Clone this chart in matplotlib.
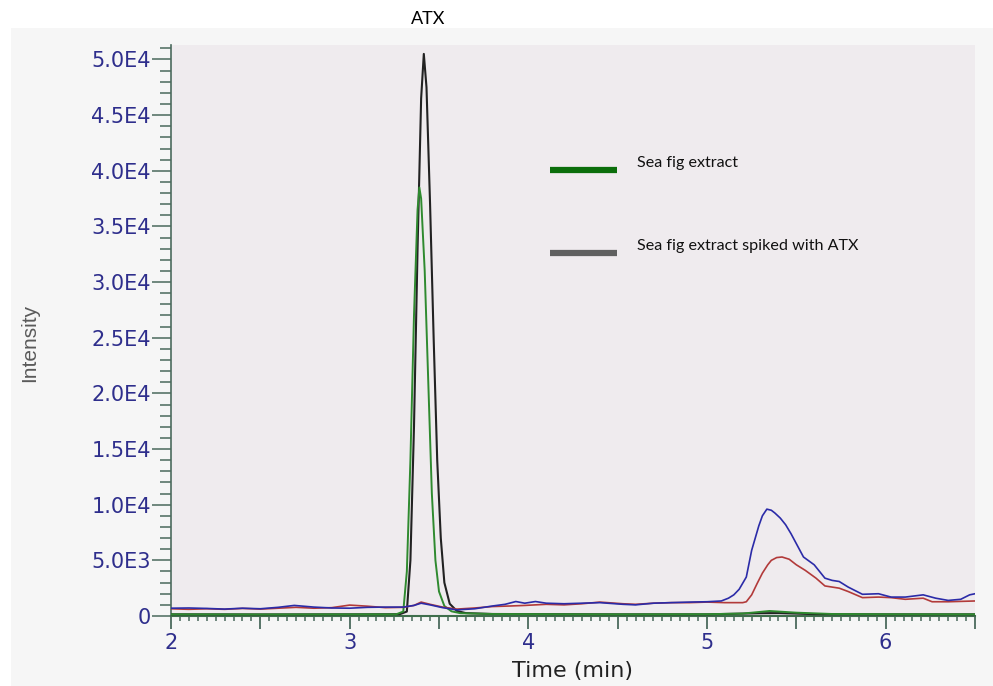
import matplotlib.pyplot as plt
from matplotlib.lines import Line2D
from matplotlib.patches import Rectangle
from matplotlib.ticker import MultipleLocator

# retention time (min) and intensity for each trace
spiked_time = [2.00, 2.50, 3.00, 3.28, 3.32, 3.34, 3.36, 3.38, 3.40, 3.415, 3.43, 3.45,
               3.47, 3.49, 3.51, 3.53, 3.56, 3.60, 3.65, 3.80, 4.50, 5.00, 5.30, 5.40,
               5.60, 6.00, 6.50]
spiked_int = [150, 140, 150, 160, 400, 5000, 17000, 33000, 46500, 50500, 47500, 37000,
              25000, 14000, 7000, 3000, 1100, 450, 260, 180, 150, 150, 250, 260,
              170, 150, 150]

extract_time = [2.00, 2.50, 3.00, 3.26, 3.30, 3.32, 3.34, 3.36, 3.38, 3.39, 3.40, 3.42,
                3.44, 3.46, 3.48, 3.50, 3.53, 3.57, 3.62, 3.80, 4.50, 5.00, 5.20, 5.35,
                5.50, 5.70, 6.00, 6.50]
extract_int = [150, 140, 150, 150, 400, 4000, 14000, 27000, 36500, 38500, 37500, 31000,
               21000, 11000, 5000, 2200, 900, 420, 250, 180, 150, 160, 220, 450,
               300, 180, 160, 150]

blue_time = [2.00, 2.10, 2.20, 2.30, 2.40, 2.50, 2.60, 2.69, 2.80, 2.90, 3.00, 3.10,
             3.20, 3.30, 3.36, 3.40, 3.45, 3.52, 3.60, 3.70, 3.80, 3.87, 3.93, 3.98,
             4.04, 4.10, 4.20, 4.30, 4.40, 4.53, 4.60, 4.70, 4.80, 4.90, 5.00, 5.08,
             5.12, 5.15, 5.18, 5.22, 5.25, 5.29, 5.31, 5.335, 5.36, 5.38, 5.41, 5.44,
             5.47, 5.50, 5.54, 5.60, 5.66, 5.70, 5.74, 5.79, 5.87, 5.96, 6.03, 6.11,
             6.21, 6.28, 6.35, 6.42, 6.47, 6.50]
blue_int = [700, 720, 680, 620, 700, 650, 780, 950, 800, 720, 700, 780,
            800, 800, 950, 1150, 1000, 750, 550, 650, 900, 1050, 1300, 1150,
            1300, 1150, 1100, 1150, 1200, 1050, 1000, 1150, 1200, 1250, 1280, 1350,
            1600, 1900, 2400, 3500, 5900, 8100, 9000, 9600, 9500, 9250, 8800, 8200,
            7400, 6500, 5300, 4600, 3400, 3200, 3100, 2600, 1950, 2000, 1700, 1700,
            1900, 1600, 1400, 1500, 1900, 2000]

red_time = [2.00, 2.10, 2.20, 2.30, 2.40, 2.50, 2.60, 2.70, 2.80, 2.90, 3.00, 3.10,
            3.20, 3.30, 3.36, 3.40, 3.45, 3.52, 3.60, 3.70, 3.80, 3.90, 3.98, 4.10,
            4.20, 4.30, 4.40, 4.53, 4.60, 4.70, 4.80, 4.90, 5.00, 5.10, 5.20, 5.22,
            5.25, 5.28, 5.31, 5.34, 5.36, 5.39, 5.42, 5.46, 5.50, 5.55, 5.61, 5.66,
            5.74, 5.79, 5.87, 5.96, 6.03, 6.11, 6.21, 6.26, 6.35, 6.50]
red_int = [650, 600, 650, 600, 680, 620, 700, 780, 700, 750, 980, 880,
           750, 780, 950, 1250, 1050, 800, 620, 720, 850, 900, 950, 1050,
           1000, 1100, 1250, 1100, 1050, 1150, 1200, 1200, 1250, 1200, 1200, 1280,
           1900, 2900, 3850, 4600, 5000, 5250, 5300, 5100, 4600, 4100, 3400, 2700,
           2500, 2200, 1650, 1700, 1650, 1500, 1600, 1280, 1280, 1350]

y_ticks = [0, 5000, 10000, 15000, 20000, 25000, 30000, 35000, 40000, 45000, 50000]
y_tick_labels = ["0", "5.0E3", "1.0E4", "1.5E4", "2.0E4", "2.5E4",
                 "3.0E4", "3.5E4", "4.0E4", "4.5E4", "5.0E4"]
x_ticks = [2, 2.5, 3, 3.5, 4, 4.5, 5, 5.5, 6, 6.5]
x_tick_labels = ["2", "", "3", "", "4", "", "5", "", "6", ""]

legend_labels = ["Sea fig extract", "Sea fig extract spiked with ATX"]
legend_colors = ["#0b6e0b", "#606060"]

fig = plt.figure(figsize=(9.93, 6.86), dpi=100)
fig.patch.set_facecolor("white")
fig.add_artist(Rectangle((11 / 993, 0), 1, 1 - 28 / 686, transform=fig.transFigure,
                         facecolor="#f6f6f6", edgecolor="none", zorder=-5))

ax = fig.add_axes([171 / 993, 1 - 616 / 686, 804 / 993, 571 / 686])
ax.set_facecolor("#efebee")

ax.plot(spiked_time, spiked_int, color="#222222", lw=1.5, zorder=3)
ax.plot(extract_time, extract_int, color="#2f8a2f", lw=1.4, zorder=4)
ax.plot(red_time, red_int, color="#b23a3a", lw=1.2, zorder=5)
ax.plot(blue_time, blue_int, color="#2b2ba8", lw=1.2, zorder=6)

ax.set_xlim(2, 6.5)
ax.set_ylim(0, 51300)

axis_col = "#4b6a5d"
for side in ["top", "right"]:
    ax.spines[side].set_visible(False)
ax.spines["left"].set_color(axis_col)
ax.spines["left"].set_linewidth(1.2)
ax.spines["bottom"].set_color("#3f6e4c")
ax.spines["bottom"].set_linewidth(1.5)

ax.set_yticks(y_ticks)
ax.set_yticklabels(y_tick_labels)
ax.yaxis.set_minor_locator(MultipleLocator(1000))
ax.set_xticks(x_ticks)
ax.set_xticklabels(x_tick_labels)
ax.xaxis.set_minor_locator(MultipleLocator(0.05))

ax.tick_params(axis="y", which="major", length=13.5, width=1.1, color=axis_col,
               labelsize=15, labelcolor="#2e2e8c", pad=1)
ax.tick_params(axis="y", which="minor", length=8, width=1.1, color=axis_col)
ax.tick_params(axis="x", which="major", length=9, width=1.3, color=axis_col,
               labelsize=15, labelcolor="#2e2e8c", pad=3)
ax.tick_params(axis="x", which="minor", length=3.5, width=1.1, color=axis_col)
for lab in ax.get_xticklabels() + ax.get_yticklabels():
    lab.set_family("DejaVu Sans")

fig.text(572 / 993, 1 - 671 / 686, "Time (min)", ha="center", va="center",
         fontsize=16, color="#222222", family="DejaVu Sans")
fig.text(30 / 993, 1 - 343 / 686, "Intensity", ha="center", va="center",
         rotation=90, fontsize=15, color="#5a5a5a", family="Liberation Sans")
fig.text(428 / 993, 1 - 19 / 686, "ATX", ha="center", va="center",
         fontsize=13, color="black", family="Lato")

# key drawn by hand: thick swatch with the label sitting a little above it
for i, (label, col) in enumerate(zip(legend_labels, legend_colors)):
    y_line = 1 - (170 + 83 * i) / 686
    y_text = 1 - (163 + 83 * i) / 686
    fig.add_artist(Line2D([550 / 993, 617 / 993], [y_line, y_line],
                          transform=fig.transFigure, color=col, lw=4.5,
                          solid_capstyle="butt"))
    fig.text(637 / 993, y_text, label, ha="left", va="center",
             fontsize=11.6, color="#111111", family="Lato")

fig.savefig("out.png", dpi=100)
